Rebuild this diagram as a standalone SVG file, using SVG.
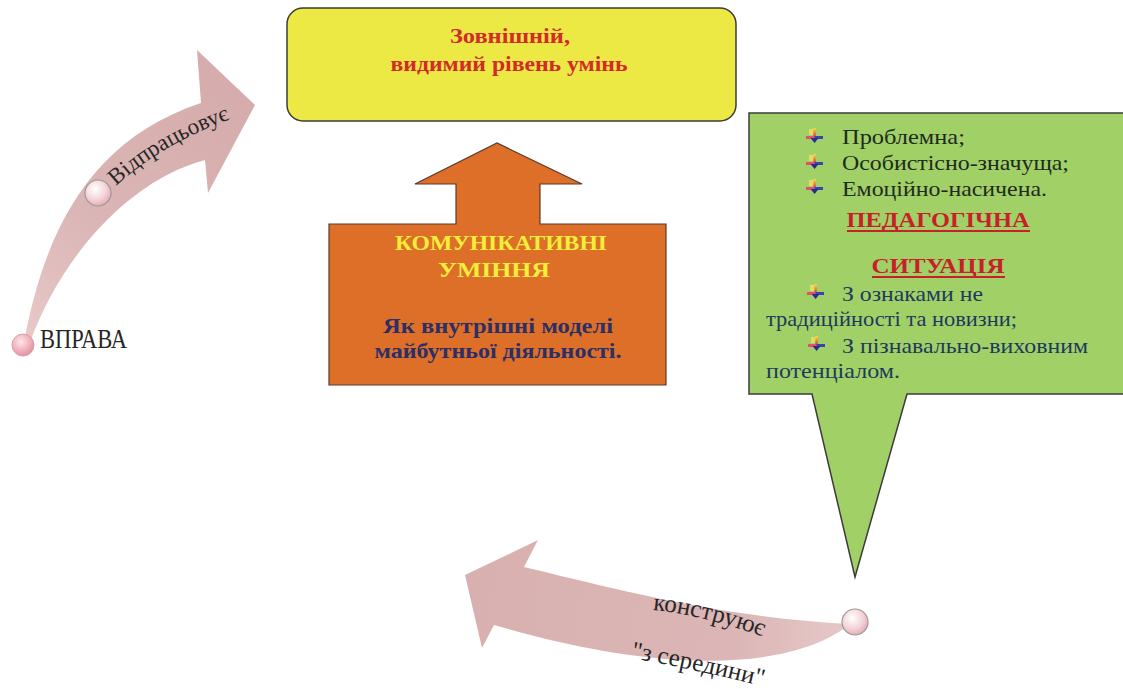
<svg xmlns="http://www.w3.org/2000/svg" width="1123" height="689" viewBox="0 0 1123 689" font-family="'Liberation Serif', 'Times New Roman', serif">
  <defs>
    <style>
      .boxline { stroke: #3b3b3b; stroke-width: 1.5; }
      .ttl { font-weight: bold; font-size: 21px; fill: #d42a2a; text-anchor: middle; }
      .org1 { font-weight: bold; font-size: 21px; fill: #f4ee3a; text-anchor: middle; }
      .org2 { font-weight: bold; font-size: 21px; fill: #2b2f66; text-anchor: middle; }
      .g1 { font-size: 22px; fill: #1e2a1e; }
      .g2 { font-size: 22px; fill: #1d3a5e; }
      .gh { font-weight: bold; font-size: 22px; fill: #c8202a; text-anchor: middle; }
      .lbl { font-size: 23px; fill: #262626; }
      .ring { stroke: #9a9a9a; stroke-width: 1.2; }
    </style>
    <linearGradient id="gLeft" x1="30" y1="340" x2="230" y2="90" gradientUnits="userSpaceOnUse">
      <stop offset="0" stop-color="#e8c8c8"/>
      <stop offset="0.4" stop-color="#dbb6b6"/>
      <stop offset="1" stop-color="#d6acac"/>
    </linearGradient>
    <linearGradient id="gBottom" x1="850" y1="625" x2="470" y2="590" gradientUnits="userSpaceOnUse">
      <stop offset="0" stop-color="#e6c8c8"/>
      <stop offset="0.3" stop-color="#dcb6b6"/>
      <stop offset="1" stop-color="#d8b0b0"/>
    </linearGradient>
    <radialGradient id="dot" cx="0.4" cy="0.35" r="0.7">
      <stop offset="0" stop-color="#ffffff"/>
      <stop offset="0.6" stop-color="#f4d2d6"/>
      <stop offset="1" stop-color="#e2a6ae"/>
    </radialGradient>
    <radialGradient id="dotPink" cx="0.4" cy="0.35" r="0.7">
      <stop offset="0" stop-color="#fde6ea"/>
      <stop offset="0.6" stop-color="#f0b0bc"/>
      <stop offset="1" stop-color="#dc8c9a"/>
    </radialGradient>
    <linearGradient id="stem" x1="0" y1="0" x2="0" y2="1">
      <stop offset="0" stop-color="#f4e04a"/>
      <stop offset="1" stop-color="#d83a3a"/>
    </linearGradient>
    <!-- list bullet: arrow pointing down onto a bar -->
    <symbol id="bul" viewBox="0 0 17 15" width="17" height="15">
      <rect x="3" y="1" width="5" height="6" fill="#f6e56a" opacity="0.7"/>
      <rect x="7.3" y="0" width="2.6" height="9" fill="url(#stem)"/>
      <rect x="0" y="8" width="8.5" height="3" fill="#e2506e"/>
      <rect x="8.5" y="8" width="8.5" height="3" fill="#3a44b0"/>
      <polygon points="4.5,10 12.5,10 8.6,15" fill="#2b2a8e"/>
    </symbol>
  </defs>

  <rect width="1123" height="689" fill="#ffffff"/>

  <!-- curved arrows and their labels -->
  <g id="connectors">
    <g id="arrow-left">
      <path d="M24,342 C45,230 90,140 201,103 L197,50 L255,105 L208,193 L205,160 C130,180 62,255 30,342 Z" fill="url(#gLeft)"/>
      <path id="pathLeft" d="M116,186 Q168,138 252,112" fill="none"/>
      <text class="lbl"><textPath href="#pathLeft">Відпрацьовує</textPath></text>
      <circle cx="98" cy="193" r="13" fill="url(#dot)" class="ring"/>
      <circle cx="23" cy="345" r="11" fill="url(#dotPink)" stroke="#d9a0a8" stroke-width="1"/>
      <text x="40" y="348" font-size="27" fill="#262626" textLength="87" lengthAdjust="spacingAndGlyphs">ВПРАВА</text>
    </g>
    <g id="arrow-bottom">
      <path d="M465,575 L538,540 L524,567 C600,585 720,618 850,624 C800,665 680,680 494,625 L482,648 Z" fill="url(#gBottom)"/>
      <path id="pathB1" d="M653,610 Q706,615 775,641" fill="none"/>
      <path id="pathB2" d="M631,658 Q700,670 777,690" fill="none"/>
      <text font-size="25" fill="#262626"><textPath href="#pathB1">конструює</textPath></text>
      <text font-size="25" fill="#262626"><textPath href="#pathB2">"з середини"</textPath></text>
      <circle cx="855" cy="622" r="13" fill="url(#dot)" class="ring"/>
    </g>
  </g>

  <!-- top rounded box -->
  <g id="node-visible-level">
    <rect x="287" y="8" width="449" height="113" rx="16" fill="#ece844" class="boxline"/>
    <text class="ttl" x="510" y="43" textLength="120" lengthAdjust="spacingAndGlyphs">Зовнішній,</text>
    <text class="ttl" x="509" y="71" textLength="237" lengthAdjust="spacingAndGlyphs">видимий рівень умінь</text>
  </g>

  <!-- orange up-arrow block -->
  <g id="node-communicative-skills">
    <path d="M329,224 H456 V184 H415 L497,143 L582,184 H540 V224 H666 V385 H329 Z" fill="#de6f28" stroke="#5a3a2a" stroke-width="1.2"/>
    <text class="org1" x="501" y="250" textLength="212" lengthAdjust="spacingAndGlyphs">КОМУНІКАТИВНІ</text>
    <text class="org1" x="494" y="277" textLength="112" lengthAdjust="spacingAndGlyphs">УМІННЯ</text>
    <text class="org2" x="498" y="333" textLength="230" lengthAdjust="spacingAndGlyphs">Як внутрішні моделі</text>
    <text class="org2" x="498" y="358" textLength="247" lengthAdjust="spacingAndGlyphs">майбутньої діяльності.</text>
  </g>

  <!-- green callout -->
  <g id="node-pedagogical-situation">
    <path d="M749,113 H1126 V394 H907 L855,577 L812,394 H749 Z" fill="#a1d066" class="boxline"/>
    <use href="#bul" x="806" y="128"/>
    <use href="#bul" x="806" y="154"/>
    <use href="#bul" x="806" y="179"/>
    <text class="g1" x="842" y="144" textLength="123" lengthAdjust="spacingAndGlyphs">Проблемна;</text>
    <text class="g1" x="842" y="170" textLength="227" lengthAdjust="spacingAndGlyphs">Особистісно-значуща;</text>
    <text class="g1" x="842" y="196" textLength="205" lengthAdjust="spacingAndGlyphs">Емоційно-насичена.</text>
    <text class="gh" x="938" y="227" textLength="183" lengthAdjust="spacingAndGlyphs">ПЕДАГОГІЧНА</text>
    <line x1="847" y1="231" x2="1030" y2="231" stroke="#c8202a" stroke-width="2"/>
    <text class="gh" x="938" y="273" textLength="133" lengthAdjust="spacingAndGlyphs">СИТУАЦІЯ</text>
    <line x1="872" y1="277" x2="1005" y2="277" stroke="#c8202a" stroke-width="2"/>
    <use href="#bul" x="807" y="284"/>
    <text class="g2" x="842" y="301" textLength="141" lengthAdjust="spacingAndGlyphs">З ознаками не</text>
    <text class="g2" x="766" y="326" textLength="251" lengthAdjust="spacingAndGlyphs">традиційності та новизни;</text>
    <use href="#bul" x="808" y="336"/>
    <text class="g2" x="842" y="353" textLength="246" lengthAdjust="spacingAndGlyphs">З пізнавально-виховним</text>
    <text class="g2" x="766" y="378" textLength="134" lengthAdjust="spacingAndGlyphs">потенціалом.</text>
  </g>
</svg>
